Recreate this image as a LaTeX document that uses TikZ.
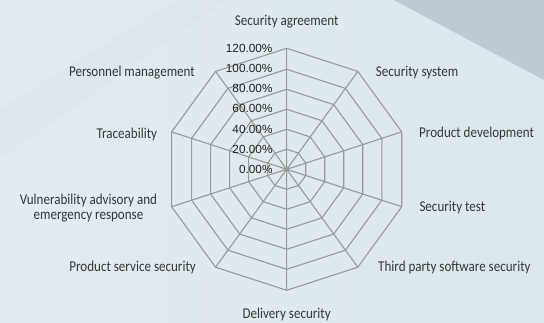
\documentclass[tikz,border=0pt]{standalone}
\usepackage{fontspec}
\usepackage{xcolor}
\usepackage{tikz}
\usetikzlibrary{shapes.geometric}
\newfontfamily\lblfont[FakeStretch=0.87]{Carlito}
\newfontfamily\valfont{Liberation Sans}
\definecolor{bgbase}{RGB}{219,230,237}
\definecolor{bglight}{RGB}{226,235,241}
\definecolor{bgdark}{RGB}{189,202,211}
\definecolor{gridgray}{RGB}{152,152,152}
\definecolor{labelgray}{RGB}{55,55,55}
\definecolor{valgray}{RGB}{34,34,34}

\begin{document}
\begin{tikzpicture}[x=1pt,y=1pt,%
% common options for the axis names:
axisname/.style = {font=\lblfont\fontsize{15}{15.3}\selectfont, text=labelgray,
            inner sep=0},
% common options for the scale values:
scaleval/.style = {font=\valfont\fontsize{11.8}{13}\selectfont, text=valgray,
            anchor=base east, inner sep=0},
% common options for the rings:
ring/.style = {regular polygon, regular polygon sides=10, shape border rotate=18,
            draw=gridgray, line width=1.1pt, inner sep=0, outer sep=0},
spoke/.style = {draw=gridgray, line width=1.1pt}]
\useasboundingbox (-286.7,-152.7) rectangle (257.3,169.3);
% background
\shade[left color=bglight, right color=bgbase] (-286.7,-152.7) rectangle (257.3,169.3);
\fill[bgbase!92!gray, opacity=0.2] (-286.7,60) -- (-110,169.3) -- (-60,169.3) -- (-286.7,10) -- cycle;
\fill[bgdark] (107.3,169.3) -- (257.3,169.3) -- (257.3,89.3) -- cycle;
% rings and spokes
\coordinate (O) at (0,0);
\node[ring, minimum size=40pt] (R1) at (O) {};
\node[ring, minimum size=80pt] (R2) at (O) {};
\node[ring, minimum size=120pt] (R3) at (O) {};
\node[ring, minimum size=160pt] (R4) at (O) {};
\node[ring, minimum size=200pt] (R5) at (O) {};
\node[ring, minimum size=242pt] (R6) at (O) {};
\draw[spoke] (O) -- (R6.corner 1) (O) -- (R6.corner 2) (O) -- (R6.corner 3)
  (O) -- (R6.corner 4) (O) -- (R6.corner 5) (O) -- (R6.corner 6)
  (O) -- (R6.corner 7) (O) -- (R6.corner 8) (O) -- (R6.corner 9)
  (O) -- (R6.corner 10);
% scale values
\node[scaleval] (V6) at (-14,117.3) {120.00\%};
\node[scaleval] (V5) at (-14,97.0) {100.00\%};
\node[scaleval] (V4) at (-14,76.7) {80.00\%};
\node[scaleval] (V3) at (-14,56.4) {60.00\%};
\node[scaleval] (V2) at (-14,36.1) {40.00\%};
\node[scaleval] (V1) at (-14,15.8) {20.00\%};
\node[scaleval] (V0) at (-14,-4.5) {0.00\%};
% axis names
\node[axisname,anchor=base] (L0) at (0,144.3) {Security agreement};
\node[axisname,anchor=base west] (L1) at (89,93.3) {Security system};
\node[axisname,anchor=base west] (L2) at (132.3,31.6) {Product development};
\node[axisname,anchor=base west] (L3) at (132.6,-42.4) {Security test};
\node[axisname,anchor=base west] (L4) at (91.3,-102.4) {Third party software security};
\node[axisname,anchor=base] (L5) at (0,-149) {Delivery security};
\node[axisname,anchor=base east] (L6) at (-90.7,-101.7) {Product service security};
\node[axisname,anchor=east,align=center] (L7) at (-129.4,-39.1) {Vulnerability advisory and\\emergency response};
\node[axisname,anchor=base east] (L8) at (-129.4,31) {Traceability};
\node[axisname,anchor=base east] (L9) at (-91.7,93.3) {Personnel management};
\end{tikzpicture}
\end{document}
